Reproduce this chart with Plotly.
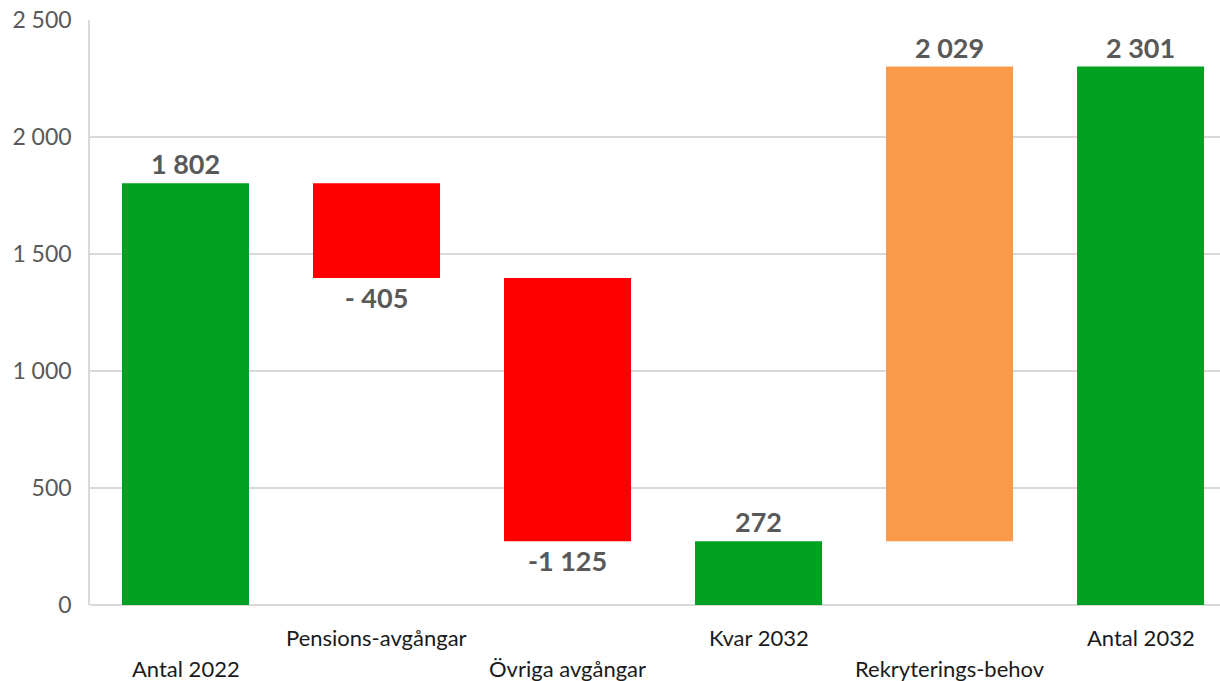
import plotly.graph_objects as go

categories = ["Antal 2022", "Pensions-avgångar", "Övriga avgångar", "Kvar 2032", "Rekryterings-behov", "Antal 2032"]
values = [1802, -405, -1125, 272, 2029, 2301]
measures = ["absolute", "relative", "relative", "total", "relative", "total"]
bar_labels = ["1 802", "- 405", "-1 125", "272", "2 029", "2 301"]
label_row = ["lower", "upper", "lower", "upper", "lower", "upper"]
y_ticks = [0, 500, 1000, 1500, 2000, 2500]

GREEN = "#00A020"
RED = "#FF0000"
ORANGE = "#FA9A4A"
FONT = "Lato, Carlito, Arial"

fig = go.Figure()
fig.add_trace(go.Waterfall(
    x=categories,
    y=values,
    measure=measures,
    text=bar_labels,
    textposition="outside",
    outsidetextfont=dict(family=FONT, size=27, color="#595959", weight="bold"),
    totals=dict(marker=dict(color=GREEN)),
    increasing=dict(marker=dict(color=ORANGE)),
    decreasing=dict(marker=dict(color=RED)),
    connector=dict(visible=False),
    cliponaxis=False,
    hoverinfo="skip",
))

for cat, row in zip(categories, label_row):
    fig.add_annotation(
        x=cat, xref="x", yref="paper",
        y=-0.0564 if row == "upper" else -0.1077,
        yanchor="middle", xanchor="center",
        text=cat, showarrow=False,
        font=dict(family=FONT, size=22, color="#1a1a1a"),
    )

fig.update_layout(
    width=1220, height=681,
    margin=dict(l=90, r=0, t=20, b=76),
    plot_bgcolor="white", paper_bgcolor="white",
    showlegend=False,
    waterfallgap=0.335,
    separators=", ",
    xaxis=dict(
        type="category",
        range=[-0.5, 5.416],
        showticklabels=False,
        showgrid=False,
        zeroline=False,
        showline=False,
    ),
    yaxis=dict(
        range=[0, 2500],
        tickvals=y_ticks,
        tickformat=",d",
        tickfont=dict(family=FONT, size=23, color="#595959"),
        gridcolor="#d9d9d9",
        gridwidth=1.5,
        zeroline=True,
        zerolinecolor="#d9d9d9",
        zerolinewidth=1.5,
        showline=True,
        linecolor="#d9d9d9",
        linewidth=1.5,
        ticks="outside",
        ticklen=12,
        tickcolor="rgba(0,0,0,0)",
    ),
)

fig.write_html(
    "out.html",
    config={"displayModeBar": False},
    post_script="document.body.style.margin='0';document.body.style.overflow='hidden';",
)
